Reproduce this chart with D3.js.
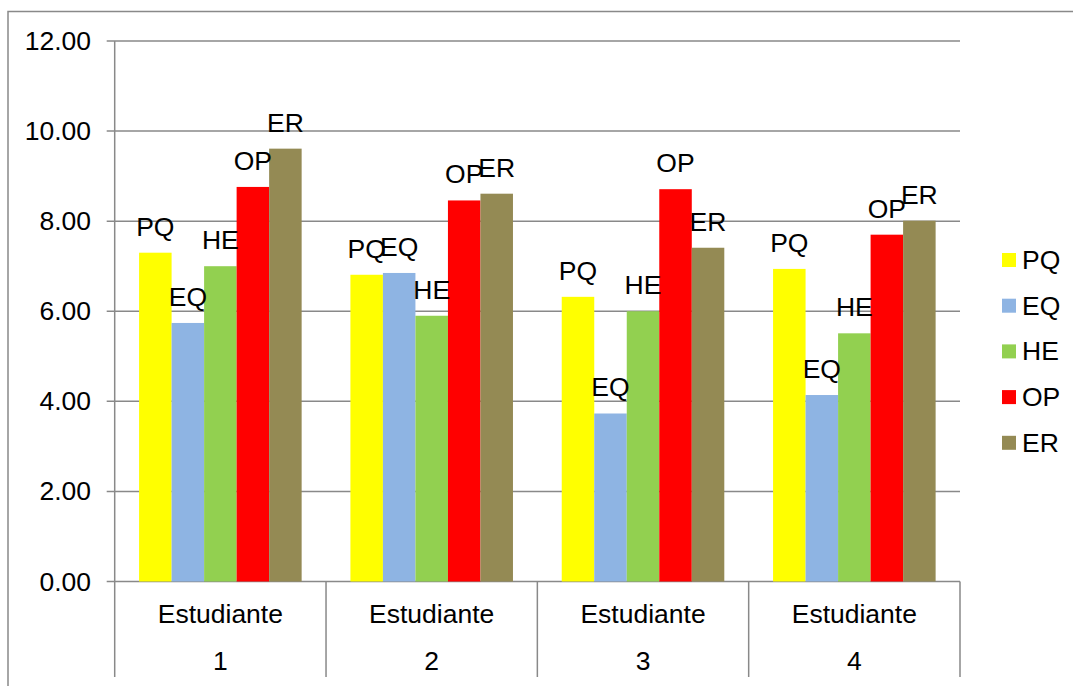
<!DOCTYPE html>
<html>
<head>
<meta charset="utf-8">
<script src="https://cdn.jsdelivr.net/npm/d3@7"></script>
<style>
  body { margin: 0; background: #fff; }
  svg text { font-family: "Liberation Sans", Arial, sans-serif; fill: #000; }
</style>
</head>
<body>
<svg id="chart" width="1073" height="686"></svg>
<script>
var categories = ["Estudiante 1", "Estudiante 2", "Estudiante 3", "Estudiante 4"];
var series = ["PQ", "EQ", "HE", "OP", "ER"];
var colors = ["#FFFF00", "#8EB4E3", "#92D050", "#FF0000", "#948A54"];
var PQ = [7.30, 6.81, 6.32, 6.94];
var EQ = [5.74, 6.85, 3.73, 4.14];
var HE = [7.00, 5.90, 6.00, 5.51];
var OP = [8.76, 8.46, 8.71, 7.70];
var ER = [9.61, 8.61, 7.41, 8.01];
var yTicks = [0, 2, 4, 6, 8, 10, 12];

var values = {PQ: PQ, EQ: EQ, HE: HE, OP: OP, ER: ER};

var svg = d3.select("#chart");
var plotLeft = 114.7, plotRight = 960, plotTop = 41, plotBottom = 581.5, catBottom = 677;
var gridColor = "#898989";
var fontSize = 26.5;

// outer chart border (only top and left visible)
svg.append("path")
    .attr("d", "M8,686V11.5H1073")
    .attr("fill", "none")
    .attr("stroke", gridColor)
    .attr("stroke-width", 1.5);

var x = d3.scaleBand().domain(categories).range([plotLeft, plotRight]);
var bw = x.bandwidth();
var gap = bw * 0.75 / 6.5;
var xs = d3.scaleBand().domain(series).range([gap, bw - gap]);
var y = d3.scaleLinear().domain([0, 12]).range([plotBottom, plotTop]);

// gridlines + tick marks
svg.append("g").selectAll("line").data(yTicks).join("line")
    .attr("x1", plotLeft - 8).attr("x2", plotRight)
    .attr("y1", function(d) { return y(d); })
    .attr("y2", function(d) { return y(d); })
    .attr("stroke", gridColor).attr("stroke-width", 1.5);

svg.append("g").selectAll("text").data(yTicks).join("text")
    .attr("x", 91)
    .attr("y", function(d) { return y(d) + 9; })
    .attr("text-anchor", "end")
    .attr("font-size", fontSize)
    .text(function(d) { return d.toFixed(2); });

// bars
var groups = svg.append("g").selectAll("g").data(categories).join("g")
    .attr("transform", function(d) { return "translate(" + x(d) + ",0)"; });

function rows(c, i) {
    return series.map(function(s) { return {s: s, v: values[s][i]}; });
}

groups.selectAll("rect").data(rows).join("rect")
    .attr("x", function(d) { return xs(d.s); })
    .attr("width", xs.bandwidth())
    .attr("y", function(d) { return y(d.v); })
    .attr("height", function(d) { return plotBottom - y(d.v); })
    .attr("fill", function(d) { return colors[series.indexOf(d.s)]; });

groups.selectAll("text").data(rows).join("text")
    .attr("x", function(d) { return xs(d.s) + xs.bandwidth() / 2; })
    .attr("y", function(d) { return y(d.v) - 17; })
    .attr("text-anchor", "middle")
    .attr("font-size", fontSize)
    .text(function(d) { return d.s; });

// axis lines
svg.append("line")
    .attr("x1", plotLeft).attr("x2", plotLeft).attr("y1", plotTop).attr("y2", catBottom)
    .attr("stroke", gridColor).attr("stroke-width", 1.5);

var bounds = categories.map(function(c) { return x(c); }).concat([plotRight]);
svg.append("g").selectAll("line").data(bounds.slice(1)).join("line")
    .attr("x1", function(d) { return d; }).attr("x2", function(d) { return d; })
    .attr("y1", plotBottom).attr("y2", catBottom)
    .attr("stroke", gridColor).attr("stroke-width", 1.5);

// category labels, two lines
var cat = svg.append("g").selectAll("text").data(categories).join("text")
    .attr("text-anchor", "middle")
    .attr("font-size", fontSize);
cat.append("tspan")
    .attr("x", function(d) { return x(d) + bw / 2; })
    .attr("y", 622.5)
    .text(function(d) { return d.split(" ")[0]; });
cat.append("tspan")
    .attr("x", function(d) { return x(d) + bw / 2; })
    .attr("y", 670)
    .text(function(d) { return d.split(" ")[1]; });

// legend
var legend = svg.append("g").selectAll("g").data(series).join("g")
    .attr("transform", function(d, i) { return "translate(1002," + (260 + i * 45.7) + ")"; });
legend.append("rect")
    .attr("x", 0).attr("y", -7).attr("width", 14).attr("height", 14)
    .attr("fill", function(d, i) { return colors[i]; });
legend.append("text")
    .attr("x", 20).attr("y", 9)
    .attr("font-size", fontSize)
    .text(function(d) { return d; });
</script>
</body>
</html>
